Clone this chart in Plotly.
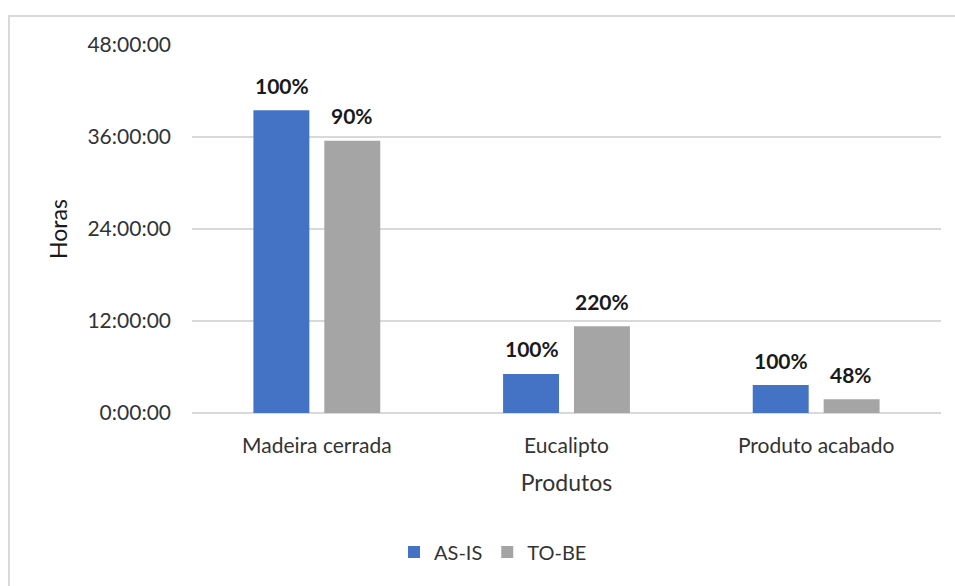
import plotly.graph_objects as go

categories = ["Madeira cerrada", "Eucalipto", "Produto acabado"]
as_is_hours = [39.5, 5.1, 3.65]
to_be_hours = [35.5, 11.3, 1.8]
as_is_labels = ["100%", "100%", "100%"]
to_be_labels = ["90%", "220%", "48%"]
y_tickvals = [0, 12, 24, 36, 48]
y_ticktext = ["0:00:00", "12:00:00", "24:00:00", "36:00:00", "48:00:00"]

FONT = "Lato, 'Liberation Sans', sans-serif"
TXT = "#333333"

fig = go.Figure()
fig.add_trace(go.Bar(
    name="AS-IS", x=categories, y=as_is_hours,
    marker=dict(color="#4472C4", line=dict(width=0)),
))
fig.add_trace(go.Bar(
    name="TO-BE", x=categories, y=to_be_hours,
    marker=dict(color="#A5A5A5", line=dict(width=0)),
))

annotations = []
for cat, v, lab in zip(categories, as_is_hours, as_is_labels):
    annotations.append(dict(x=cat, y=v, text=f"<b>{lab}</b>", showarrow=False,
                            xshift=-35, yshift=25, yanchor="middle",
                            font=dict(family=FONT, size=21, color="#1a1a1a")))
for cat, v, lab in zip(categories, to_be_hours, to_be_labels):
    annotations.append(dict(x=cat, y=v, text=f"<b>{lab}</b>", showarrow=False,
                            xshift=35, yshift=25, yanchor="middle",
                            font=dict(family=FONT, size=21, color="#1a1a1a")))

L, R, T, B = 192, 14, 45, 173
W, H = 955, 586
pw, ph = W - L - R, H - T - B

def px(x):
    return (x - L) / pw

def py(y):
    return (H - B - y) / ph

fig.update_layout(
    width=W, height=H,
    margin=dict(l=L, r=R, t=T, b=B, autoexpand=False),
    paper_bgcolor="white", plot_bgcolor="white",
    barmode="group", bargap=0.432, bargroupgap=0.211,
    font=dict(family=FONT, size=20, color=TXT),
    showlegend=True,
    annotations=annotations,
    legend=dict(orientation="h", x=px(493), y=py(552), xanchor="center", yanchor="middle",
                font=dict(family=FONT, size=20, color=TXT), itemwidth=30,
                traceorder="normal"),
    xaxis=dict(showgrid=False, showline=False, ticks="", ticklabelstandoff=18,
               tickfont=dict(family=FONT, size=21, color=TXT),
               title=dict(text="Produtos", font=dict(family=FONT, size=23, color=TXT), standoff=18)),
    yaxis=dict(range=[0, 48], tickvals=y_tickvals, ticktext=y_ticktext,
               showgrid=True, gridcolor="#d9d9d9", gridwidth=2,
               zeroline=True, zerolinecolor="#d9d9d9", zerolinewidth=2,
               showline=False, ticks="", ticklabelstandoff=20,
               tickfont=dict(family=FONT, size=21, color=TXT),
               title=dict(text="Horas", font=dict(family=FONT, size=23, color="#1a1a1a"), standoff=13)),
    shapes=[dict(type="rect", xref="paper", yref="paper",
                 x0=px(9), x1=px(975), y0=py(600), y1=py(16),
                 line=dict(color="#d9d9d9", width=2), layer="below")],
)

fig.write_html("out.html")
